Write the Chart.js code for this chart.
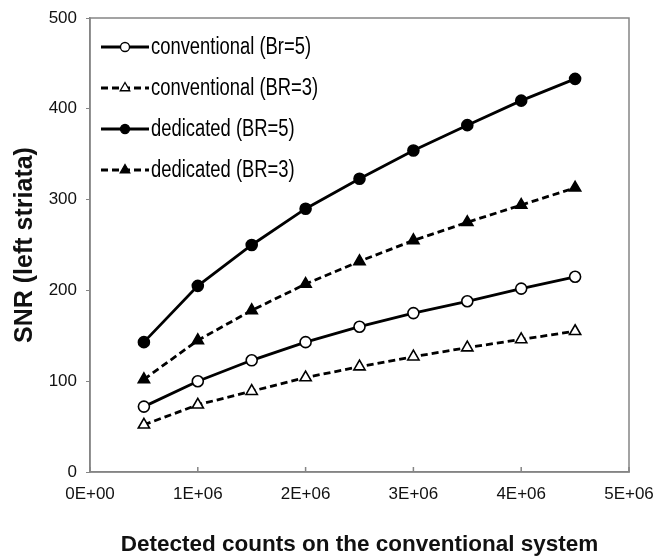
<!DOCTYPE html>
<html>
<head>
<meta charset="utf-8">
<script src="https://cdn.jsdelivr.net/npm/chart.js@4/dist/chart.umd.min.js"></script>
<style>
  html, body { margin: 0; padding: 0; background: #fff; }
  #wrap { width: 656px; height: 560px; }
</style>
</head>
<body>
<div id="wrap"><canvas id="snrChart" width="656" height="560"></canvas></div>
<script>
// counts on x, SNR values
const counts = [0.5e6, 1e6, 1.5e6, 2e6, 2.5e6, 3e6, 3.5e6, 4e6, 4.5e6];
const convBr5 = [72, 100, 123, 143, 160, 175, 188, 202, 215];
const convBr3 = [52, 74, 89, 104, 116, 127, 137, 146, 155];
const dedBr5 = [143, 205, 250, 290, 323, 354, 382, 409, 433];
const dedBr3 = [102, 145, 178, 207, 232, 255, 275, 294, 313];
const seriesNames = ['conventional (Br=5)', 'conventional (BR=3)', 'dedicated (BR=5)', 'dedicated (BR=3)'];
const xTickLabels = ['0E+00', '1E+06', '2E+06', '3E+06', '4E+06', '5E+06'];

const axisGray = '#858585';
const font = 'Liberation Sans, Arial, sans-serif';

function pts(vals) {
  return counts.map((c, i) => ({ x: c, y: vals[i] }));
}

function series(name, vals, style, filled, dashed) {
  return {
    label: name,
    data: pts(vals),
    borderColor: '#000',
    borderWidth: 2.8,
    borderDash: dashed ? [7, 4] : [],
    pointStyle: style,
    pointRadius: style === 'triangle' ? 6.5 : 5.5,
    pointBorderWidth: 1.6,
    pointBorderColor: '#000',
    pointBackgroundColor: filled ? '#000' : '#fff',
    showLine: true,
    tension: 0
  };
}

// legend drawn inside the plot: line + marker + label (text is a narrow face, so squeeze it)
const innerLegend = {
  id: 'innerLegend',
  afterDatasetsDraw(chart) {
    const ctx = chart.ctx;
    const rows = [47, 88, 129, 170];
    chart.data.datasets.forEach((ds, i) => {
      const y = rows[i];
      ctx.save();
      ctx.strokeStyle = '#000';
      ctx.lineWidth = ds.borderWidth;
      ctx.setLineDash(ds.borderDash);
      ctx.beginPath();
      ctx.moveTo(101, y);
      ctx.lineTo(149, y);
      ctx.stroke();
      ctx.setLineDash([]);
      ctx.fillStyle = ds.pointBackgroundColor;
      ctx.strokeStyle = ds.pointBorderColor;
      ctx.lineWidth = 1.3;
      Chart.helpers.drawPoint(ctx, {
        pointStyle: ds.pointStyle,
        radius: ds.pointRadius - 1,
        rotation: 0,
        borderWidth: 1.3
      }, 125, y);
      ctx.translate(151, y + 1);
      ctx.scale(0.8, 1);
      ctx.fillStyle = '#000';
      ctx.font = '23px ' + font;
      ctx.textBaseline = 'middle';
      ctx.textAlign = 'left';
      ctx.fillText(ds.label, 0, 0);
      ctx.restore();
    });
  }
};

// box around the plot area and small inward ticks on x
const frame = {
  id: 'frame',
  beforeDatasetsDraw(chart) {
    const { ctx, chartArea: a } = chart;
    const xs = chart.scales.x;
    ctx.save();
    ctx.strokeStyle = axisGray;
    ctx.lineWidth = 1.5;
    ctx.strokeRect(a.left, a.top, a.right - a.left, a.bottom - a.top);
    ctx.beginPath();
    xs.ticks.forEach(t => {
      const px = xs.getPixelForValue(t.value);
      ctx.moveTo(px, a.bottom);
      ctx.lineTo(px, a.bottom - 5);
    });
    ctx.stroke();
    ctx.restore();
  }
};

new Chart(document.getElementById('snrChart'), {
  type: 'scatter',
  data: {
    datasets: [
      series(seriesNames[0], convBr5, 'circle', false, false),
      series(seriesNames[1], convBr3, 'triangle', false, true),
      series(seriesNames[2], dedBr5, 'circle', true, false),
      series(seriesNames[3], dedBr3, 'triangle', true, true)
    ]
  },
  options: {
    responsive: false,
    animation: false,
    layout: { padding: { top: 18, right: 27, left: 0, bottom: 0 } },
    plugins: {
      legend: { display: false },
      tooltip: { enabled: false }
    },
    scales: {
      x: {
        type: 'linear',
        min: 0,
        max: 5e6,
        afterFit(scale) {
          scale.height = 88;
          scale.paddingLeft = 0;
          scale.paddingRight = 0;
        },
        border: { color: axisGray, width: 1.5 },
        grid: { display: true, drawOnChartArea: false, drawTicks: false, color: axisGray },
        ticks: {
          stepSize: 1e6,
          padding: 12,
          color: '#111',
          font: { family: font, size: 17 },
          callback: (v, i) => xTickLabels[i]
        },
        title: {
          display: true,
          text: 'Detected counts on the conventional system',
          color: '#111',
          font: { family: font, size: 22.5, weight: 'bold' },
          padding: { top: 0, bottom: 2 }
        }
      },
      y: {
        min: 0,
        max: 500,
        afterFit(scale) {
          scale.width = 90;
          scale.paddingTop = 0;
          scale.paddingBottom = 0;
        },
        border: { color: axisGray, width: 1.5 },
        grid: { drawOnChartArea: false, drawTicks: true, tickLength: 4, color: axisGray },
        ticks: {
          stepSize: 100,
          padding: 9,
          color: '#111',
          font: { family: font, size: 17 }
        },
        title: {
          display: true,
          text: 'SNR (left striata)',
          color: '#111',
          font: { family: font, size: 25, weight: 'bold' },
          padding: { top: 10, bottom: 0 }
        }
      }
    }
  },
  plugins: [frame, innerLegend]
});
</script>
</body>
</html>
